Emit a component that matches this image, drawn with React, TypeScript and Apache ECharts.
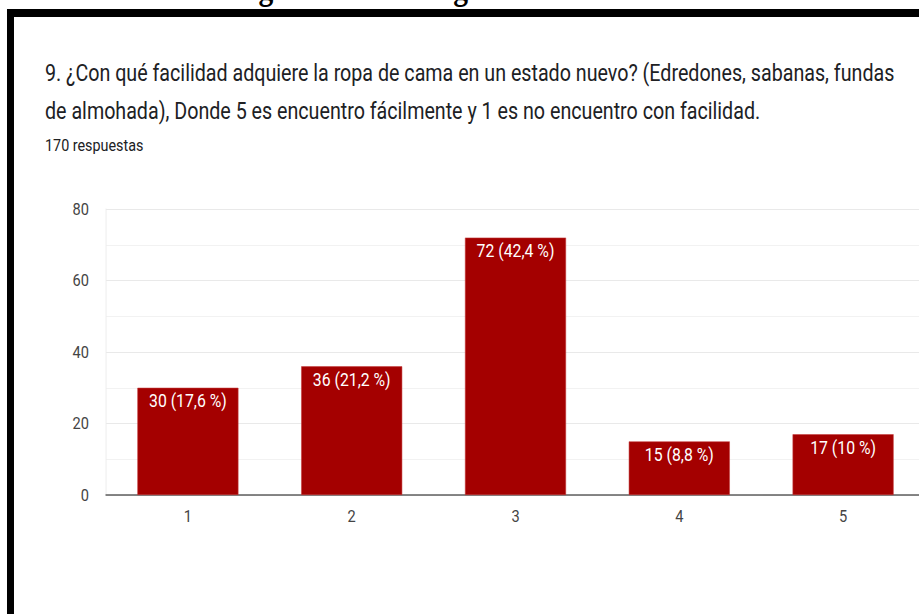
import React, { useEffect, useRef } from "react";
import * as echarts from "echarts";

const categories = ["1", "2", "3", "4", "5"];
const values = [30, 36, 72, 15, 17];
const percents = ["17,6", "21,2", "42,4", "8,8", "10"];
const yTicks = [0, 20, 40, 60, 80];
const titleLine1 =
  "9. ¿Con qué facilidad adquiere la ropa de cama en un estado nuevo? (Edredones, sabanas, fundas";
const titleLine2 =
  "de almohada), Donde 5 es encuentro fácilmente y 1 es no encuentro con facilidad.";
const subtitle = "170 respuestas";
const headerText = "Pregunta 9. Investigación de Mercados.";

const S = 0.845; // horizontal squeeze of the reference image
const W = 960 / S; // a little wider than the page, clipped by the window
const H = 614;
const X = (x: number) => x / S;

export default function App() {
  const ref = useRef<HTMLDivElement>(null);
  useEffect(() => {
    document.body.style.margin = "0";
    document.body.style.overflow = "hidden";
    const chart = echarts.init(ref.current!, undefined, { renderer: "svg" });
    const font = "Roboto, 'Noto Sans', sans-serif";
    chart.setOption({
      animation: false,
      backgroundColor: "#ffffff",
      grid: { left: X(106), top: 209, width: X(819), height: 286, containLabel: false },
      xAxis: {
        type: "category",
        data: categories,
        axisTick: { show: false },
        axisLine: { lineStyle: { color: "#5f5f5f", width: 1.6 } },
        axisLabel: { color: "#444444", fontSize: 17.3, fontFamily: font, margin: 13 },
      },
      yAxis: {
        type: "value",
        min: yTicks[0],
        max: yTicks[yTicks.length - 1],
        interval: 20,
        axisLine: { show: true, lineStyle: { color: "#ececec", width: 1 } },
        axisTick: { show: false },
        axisLabel: { color: "#444444", fontSize: 17.3, fontFamily: font, margin: X(17) },
        splitLine: { lineStyle: { color: "#e9e9e9", width: 1.2 } },
        minorTick: { show: false, splitNumber: 2 },
        minorSplitLine: { show: true, lineStyle: { color: "#f1f1f1", width: 1 } },
      },
      series: [
        {
          type: "bar",
          data: values,
          barWidth: X(101),
          itemStyle: { color: "#a40000", borderColor: "#c43a3a", borderWidth: 0.6 },
          label: {
            show: true,
            position: "insideTop",
            distance: 3.5,
            color: "#ffffff",
            fontSize: 18.7,
            fontFamily: font,
            formatter: (p: any) => `${p.value} (${percents[p.dataIndex]} %)`,
          },
        },
      ],
      graphic: [
        {
          type: "text",
          x: X(463),
          y: -12.5,
          style: {
            text: headerText,
            fontFamily: "'Liberation Serif', 'DejaVu Serif', serif",
            fontWeight: "bold",
            fontSize: 35,
            fill: "#000000",
            align: "center",
            verticalAlign: "middle",
          },
        },
        { type: "rect", shape: { x: X(7), y: 9, width: W, height: 8 }, style: { fill: "#000000" } },
        { type: "rect", shape: { x: X(7), y: 9, width: X(7), height: H }, style: { fill: "#000000" } },
        {
          type: "text",
          x: X(45),
          y: 73.3,
          style: { text: titleLine1, fontFamily: font, fontSize: 23.3, fill: "#202124", verticalAlign: "middle" },
        },
        {
          type: "text",
          x: X(45),
          y: 110.5,
          style: { text: titleLine2, fontFamily: font, fontSize: 23.3, fill: "#202124", verticalAlign: "middle" },
        },
        {
          type: "text",
          x: X(45),
          y: 145,
          style: { text: subtitle, fontFamily: font, fontSize: 17, fill: "#202124", verticalAlign: "middle" },
        },
      ],
    });
    return () => chart.dispose();
  }, []);
  return (
    <div
      ref={ref}
      style={{
        position: "fixed",
        left: 0,
        top: 0,
        width: W,
        height: H,
        transform: `scaleX(${S})`,
        transformOrigin: "0 0",
        background: "#fff",
      }}
    />
  );
}
